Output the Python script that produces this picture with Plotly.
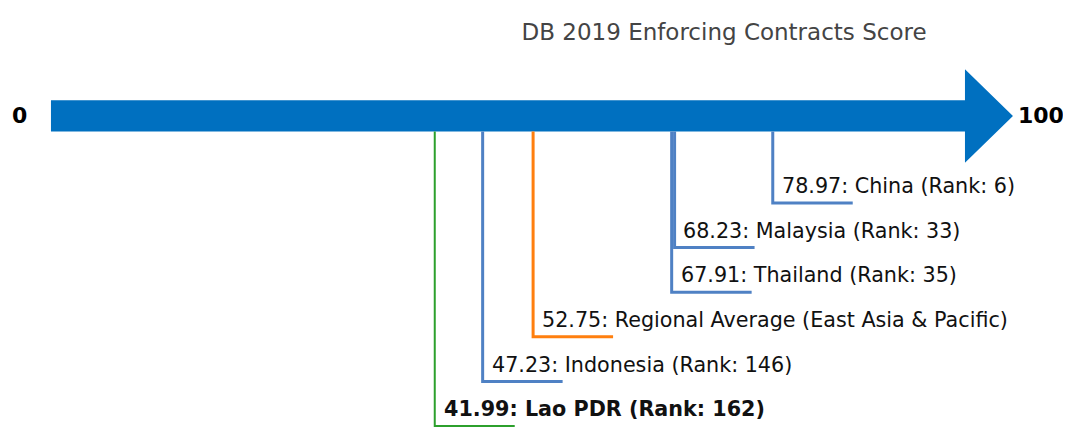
import plotly.graph_objects as go

# data
names = ["China", "Malaysia", "Thailand", "Regional Average (East Asia & Pacific)", "Indonesia", "Lao PDR"]
scores = [78.97, 68.23, 67.91, 52.75, 47.23, 41.99]
ranks = [6, 33, 35, None, 146, 162]
colors = ["#4f81c4", "#4f81c4", "#4f81c4", "#ff7f0e", "#4f81c4", "#2ca02c"]
title = "DB 2019 Enforcing Contracts Score"
axis_min, axis_max = 0, 100

font = "DejaVu Sans"
arrow_blue = "#0070c0"

fig = go.Figure()

# arrow body + head
body_h = 0.35
head_h = 1.05
tip = axis_max + 5.25
fig.add_shape(
    type="path",
    path=(f"M {axis_min},{body_h} L {axis_max},{body_h} L {axis_max},{head_h} "
          f"L {tip},0 L {axis_max},{-head_h} L {axis_max},{-body_h} L {axis_min},{-body_h} Z"),
    fillcolor=arrow_blue, line=dict(width=0), layer="below",
)

seg_len = 8.75
for i, (n, s, r, c) in enumerate(zip(names, scores, ranks, colors)):
    level = -1.95 - i
    lw = 2 if n == "Lao PDR" else 3
    fig.add_trace(go.Scatter(
        x=[s, s, s + seg_len], y=[-body_h, level, level],
        mode="lines", line=dict(color=c, width=lw),
        hoverinfo="skip", showlegend=False,
    ))
    label = f"{s:.2f}: {n}" + (f" (Rank: {r})" if r is not None else "")
    if n == "Lao PDR":
        label = f"<b>{label}</b>"
    fig.add_annotation(
        x=s + 0.75, y=level + 0.38, text=label, showarrow=False,
        xanchor="left", yanchor="middle",
        font=dict(family=font, size=20.7, color="#111111"),
    )

# end labels
fig.add_annotation(x=-3.39, y=0, text=f"<b>{axis_min}</b>", showarrow=False,
                   font=dict(family=font, size=22, color="black"))
fig.add_annotation(x=108.3, y=0, text=f"<b>{axis_max}</b>", showarrow=False,
                   font=dict(family=font, size=22, color="black"))

# the page puts the figure 8px in from the top-left corner
fig.update_layout(
    width=1063, height=419,
    margin=dict(l=0, r=0, t=0, b=0),
    paper_bgcolor="white", plot_bgcolor="white",
    title=dict(text=title, x=0.6736, xanchor="center", y=0.943, yanchor="middle",
               font=dict(family=font, size=23, color="#444444")),
    xaxis=dict(range=[-4.70, 111.6], visible=False, fixedrange=True),
    yaxis=dict(range=[-6.97, 2.42], visible=False, fixedrange=True),
)

fig.write_html("out.html")
